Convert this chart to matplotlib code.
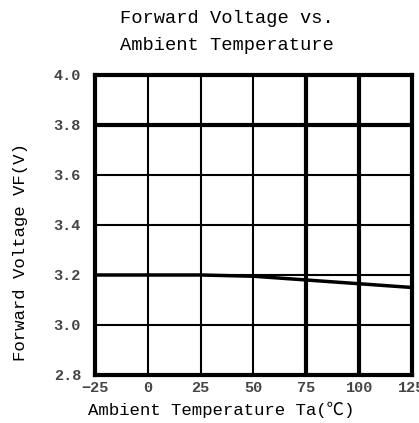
import numpy as np
import matplotlib
matplotlib.use("Agg")
import matplotlib.pyplot as plt

# data
temps = [-25, 0, 25, 50, 75, 100, 125]
vf = [3.20, 3.20, 3.20, 3.195, 3.18, 3.165, 3.15]
x_ticks = [-25, 0, 25, 50, 75, 100, 125]
y_ticks = [2.8, 3.0, 3.2, 3.4, 3.6, 3.8, 4.0]
y_labels = ["2.8", "3.0", "3.2", "3.4", "3.6", "3.8", "4.0"]

mono = "Liberation Mono"

fig = plt.figure(figsize=(4.19, 4.23), dpi=100)
ax = fig.add_axes([0.2267, 0.1135, 0.7566, 0.7092])

thick_x = {75, 100, 125}
thick_y = {3.8, 4.0}
for t in x_ticks[1:-1]:
    ax.axvline(t, color="black", lw=3.0 if t in thick_x else 1.5, zorder=1)
for v in y_ticks[1:-1]:
    ax.axhline(v, color="black", lw=3.0 if v in thick_y else 1.5, zorder=1)

ax.plot(temps, vf, color="black", lw=2.5, zorder=2)

ax.set_xlim(-25, 125)
ax.set_ylim(2.8, 4.0)
ax.set_xticks(x_ticks)
ax.set_yticks(y_ticks)
ax.set_yticklabels(y_labels)
ax.tick_params(axis="y", length=0, labelsize=11, pad=10)
ax.tick_params(axis="x", length=0, labelsize=11, pad=4)
for lab in ax.get_xticklabels() + ax.get_yticklabels():
    lab.set_family(mono)
    lab.set_fontweight("bold")
    lab.set_color("#444444")

for s in ax.spines.values():
    s.set_linewidth(3.0)

fig.text(0.542, 1 - 32 / 423, "Forward Voltage vs.\nAmbient Temperature",
         family=mono, fontsize=13.5, ha="center", va="center", linespacing=1.75)
fig.text(0.527, 1 - 410 / 423, "Ambient Temperature Ta(℃)",
         family=[mono, "Noto Sans CJK SC"], fontsize=12.5, ha="center", va="center")
ax.set_ylabel("Forward Voltage VF(V)", family=mono, fontsize=12.5)
ax.yaxis.set_label_coords(-0.21, 0.41)

fig.savefig("out.png", dpi=100)
